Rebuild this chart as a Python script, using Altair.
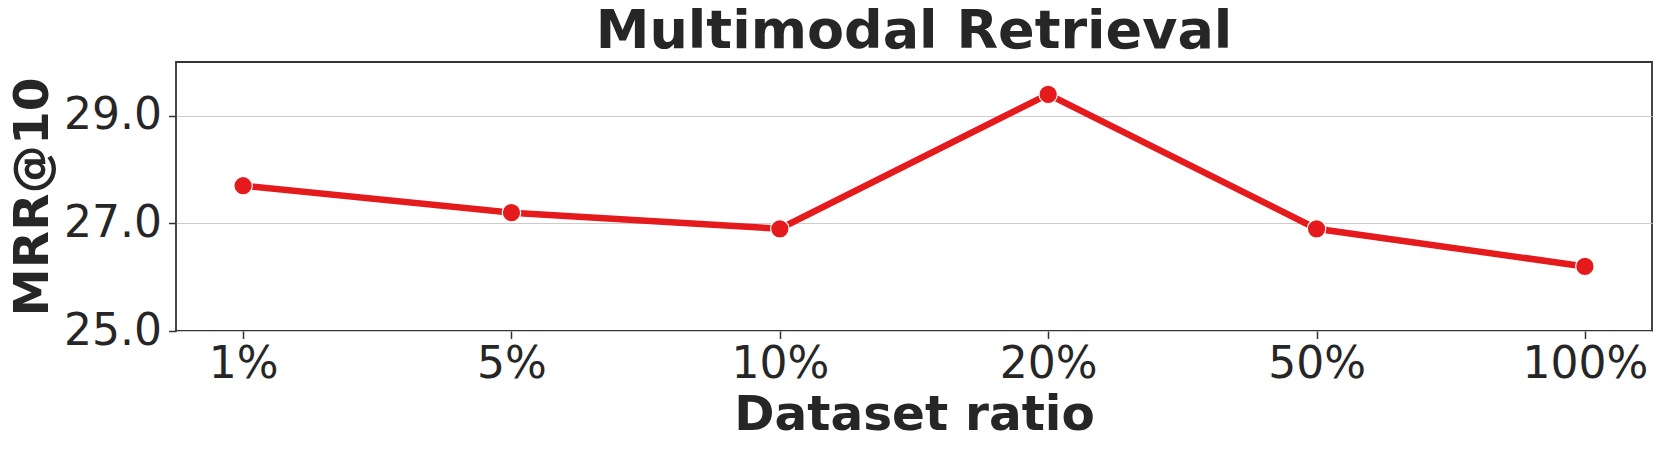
import altair as alt
import pandas as pd

ratios = ["1%", "5%", "10%", "20%", "50%", "100%"]
mrr10 = [27.7, 27.2, 26.9, 29.4, 26.9, 26.2]
y_ticks = [25.0, 27.0, 29.0]

df = pd.DataFrame({"ratio": ratios, "mrr": mrr10})

W, H = 1476, 269
FONT = "DejaVu Sans"
INK = "#262626"
RED = "#e41a1c"

x = alt.X(
    "ratio:N",
    sort=ratios,
    scale=alt.Scale(type="point", padding=0.25),
    axis=alt.Axis(
        title="Dataset ratio",
        titleFont=FONT, titleFontSize=48.5, titleFontWeight="bold", titleColor=INK,
        titleBaseline="alphabetic", titleX=W / 2, titleY=98, titleAnchor="middle",
        labelFont=FONT, labelFontSize=44, labelColor=INK, labelAngle=0,
        labelPadding=4, tickSize=7.5, tickColor="#333333", tickWidth=1.5,
        domain=False, grid=False,
    ),
)
y = alt.Y(
    "mrr:Q",
    scale=alt.Scale(domain=[25, 30], nice=False, zero=False),
    axis=alt.Axis(
        title="MRR@10",
        values=y_ticks, format=".1f",
        titleFont=FONT, titleFontSize=48.5, titleFontWeight="bold", titleColor=INK,
        titleBaseline="alphabetic", titleX=-129, titleY=H / 2, titleAngle=270,
        titleAlign="center",
        labelFont=FONT, labelFontSize=44, labelColor=INK,
        labelPadding=7, tickSize=7.5, tickColor="#333333", tickWidth=1.5,
        domain=False, grid=True, gridColor="#cccccc", gridWidth=1.2,
    ),
)

line = alt.Chart(df).mark_line(color=RED, strokeWidth=6.5).encode(x=x, y=y)
pts = alt.Chart(df).mark_point(
    filled=True, color=RED, size=340, opacity=1, stroke="white", strokeWidth=1.2
).encode(x=x, y=y)

chart = (
    alt.layer(line, pts)
    .properties(
        width=W,
        height=H,
        title=alt.TitleParams(
            "Multimodal Retrieval",
            font=FONT, fontSize=54, fontWeight="bold", color=INK,
            anchor="middle", frame="group", offset=3,
        ),
        autosize=alt.AutoSizeParams(type="none"),
        padding={"left": 168, "top": 54, "right": 1, "bottom": 120},
        background="white",
    )
    .configure_view(stroke="#333333", strokeWidth=1.8)
)

chart.save("out.html", embed_options={"renderer": "svg", "actions": False})
